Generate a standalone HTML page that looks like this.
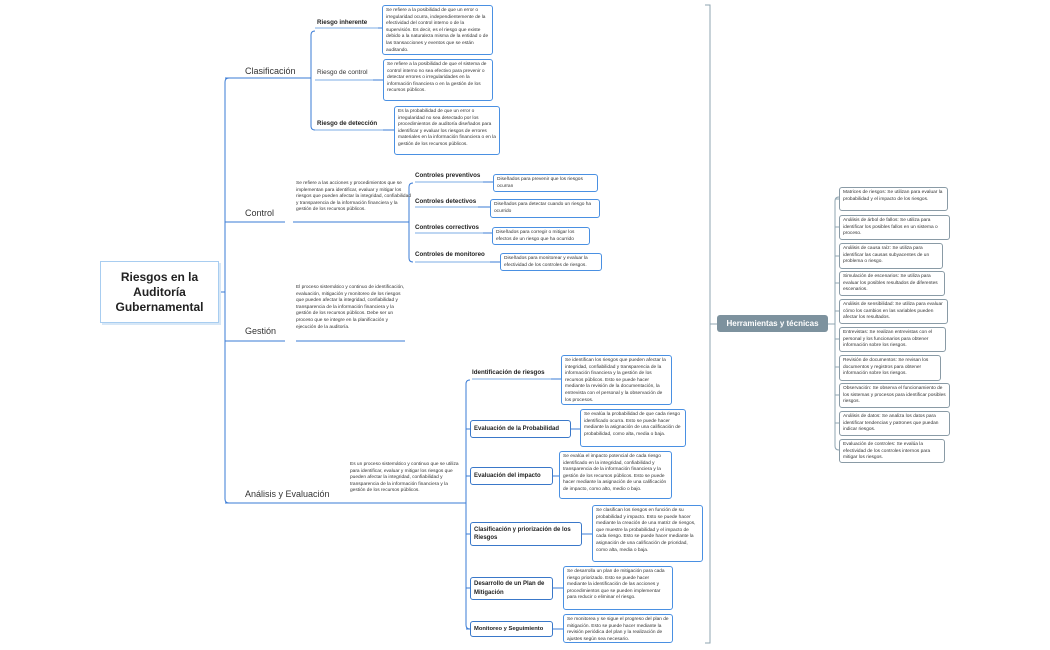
<!DOCTYPE html>
<html><head><meta charset="utf-8"><style>
body{margin:0;width:1050px;height:650px;background:#fff;position:relative;overflow:hidden;font-family:"Liberation Sans",sans-serif;color:#222}
.a{position:absolute}
.d{position:absolute;font-size:4.8px;line-height:6.6px;color:#333}
.bx{position:absolute;border:1px solid #4a90e2;border-radius:3px;box-sizing:border-box;padding:2px 3px;font-size:4.8px;line-height:6.6px;color:#333;background:#fff;overflow:hidden}
.gb{position:absolute;border:1px solid #8a9ba6;border-radius:3px;box-sizing:border-box;padding:2px 3px;font-size:4.8px;line-height:6.6px;color:#333;background:#fff;overflow:hidden}
.m{position:absolute;font-size:9px;color:#333}
.s{position:absolute;font-size:6.2px;font-weight:bold;color:#222;white-space:nowrap}
.nb{position:absolute;border:1px solid #3a78c9;border-radius:3px;box-sizing:border-box;font-size:6px;font-weight:bold;padding:0 3px;display:flex;align-items:center;background:#fff;line-height:8.5px}
</style></head><body>
<svg class="a" style="left:0;top:0" width="1050" height="650">
<g fill="none" stroke="#3a7bd5" stroke-width="1">
<path d="M219 292 H225"/>
<path d="M229 78 Q225 78 225 82 V499 Q225 503 229 503"/>
<path d="M225 78 H310 M225 222 H285 M225 341 H285 M225 503 H345"/>
<path d="M293 222 H405 M296 341 H405 M345 503 H463"/>
<path d="M310 78 H311"/>
<path d="M315 31 Q311 31 311 35 V126 Q311 130 315 130"/>
<path d="M405 222 H409 M413 183 Q409 183 409 187 V258 Q409 262 413 262"/>
<path d="M463 503 H466 M470 380 Q466 380 466 384 V625 Q466 629 470 629"/>
<path d="M466 429 H470 M466 476 H470 M466 534 H470 M466 588 H470 M466 629 H470"/>
<path d="M378 28 H382 M373 80 H383 M383 130 H394"/>
<path d="M483 182 H493 M478 207 H490 M483 233 H492 M490 262 H500"/>
<path d="M551 379 H561 M571 429 H580 M553 476 H559 M582 534 H592 M553 588 H563 M553 629 H563"/>
</g>
<g fill="none" stroke="#a8c8ee" stroke-width="1.5">
<path d="M315 28 H378 M315 80 H373 M315 130 H383"/>
<path d="M415 182 H483 M415 207 H478 M415 233 H483 M415 262 H490"/>
<path d="M472 379 H551"/>
</g>
<g fill="none" stroke="#8fa4b0" stroke-width="1">
<path d="M705 5 H710 V643 H705"/>
<path d="M710 324 H717"/>
<path d="M828 324 H835"/>
<path d="M839 197 Q835 197 835 201 V446 Q835 450 839 450"/>
<path d="M835 199 H839 M835 227 H839 M835 256 H839 M835 283 H839 M835 311 H839 M835 339 H839 M835 367 H839 M835 395 H839 M835 423 H839"/>
</g>
</svg>

<div class="a" style="left:100px;top:261px;width:119px;height:62px;border:1px solid #a8cdf0;box-sizing:border-box;box-shadow:2px 2px 0 #d6e7f7;display:flex;align-items:center;justify-content:center;text-align:center;font-size:12px;font-weight:bold;line-height:15px;color:#222">Riesgos en la<br>Auditoría<br>Gubernamental</div>

<div class="m" style="left:245px;top:66px">Clasificación</div>
<div class="m" style="left:245px;top:208px">Control</div>
<div class="m" style="left:245px;top:326px">Gestión</div>
<div class="m" style="left:245px;top:489px">Análisis y Evaluación</div>

<div class="s" style="left:317px;top:19px">Riesgo inherente</div>
<div class="a" style="left:317px;top:69px;font-size:6.5px;color:#333">Riesgo de control</div>
<div class="s" style="left:317px;top:120px">Riesgo de detección</div>

<div class="bx" style="left:382px;top:5px;width:111px;height:50px">Se refiere a la posibilidad de que un error o irregularidad ocurra, independientemente de la efectividad del control interno o de la supervisión. Es decir, es el riesgo que existe debido a la naturaleza misma de la entidad o de las transacciones y eventos que se están auditando.</div>
<div class="bx" style="left:383px;top:59px;width:110px;height:42px">Se refiere a la posibilidad de que el sistema de control interno no sea efectivo para prevenir o detectar errores o irregularidades en la información financiera o en la gestión de los recursos públicos.</div>
<div class="bx" style="left:394px;top:106px;width:106px;height:49px">Es la probabilidad de que un error o irregularidad no sea detectado por los procedimientos de auditoría diseñados para identificar y evaluar los riesgos de errores materiales en la información financiera o en la gestión de los recursos públicos.</div>

<div class="d" style="left:296px;top:181px;width:115px">Se refiere a las acciones y procedimientos que se implementan para identificar, evaluar y mitigar los riesgos que pueden afectar la integridad, confiabilidad y transparencia de la información financiera y la gestión de los recursos públicos.</div>
<div class="d" style="left:296px;top:285px;width:112px">El proceso sistemático y continuo de identificación, evaluación, mitigación y monitoreo de los riesgos que pueden afectar la integridad, confiabilidad y transparencia de la información financiera y la gestión de los recursos públicos. Debe ser un proceso que se integre en la planificación y ejecución de la auditoría.</div>
<div class="d" style="left:350px;top:462px;width:114px">Es un proceso sistemático y continuo que se utiliza para identificar, evaluar y mitigar los riesgos que pueden afectar la integridad, confiabilidad y transparencia de la información financiera y la gestión de los recursos públicos.</div>

<div class="s" style="left:415px;top:172px">Controles preventivos</div>
<div class="s" style="left:415px;top:198px">Controles detectivos</div>
<div class="s" style="left:415px;top:224px">Controles correctivos</div>
<div class="s" style="left:415px;top:251px">Controles de monitoreo</div>
<div class="bx" style="left:493px;top:174px;width:105px;height:18px">Diseñados para prevenir que los riesgos ocurran</div>
<div class="bx" style="left:490px;top:199px;width:110px;height:19px">Diseñados para detectar cuando un riesgo ha ocurrido</div>
<div class="bx" style="left:492px;top:227px;width:98px;height:18px">Diseñados para corregir o mitigar los efectos de un riesgo que ha ocurrido</div>
<div class="bx" style="left:500px;top:253px;width:102px;height:18px">Diseñados para monitorear y evaluar la efectividad de los controles de riesgos.</div>

<div class="s" style="left:472px;top:369px">Identificación de riesgos</div>
<div class="nb" style="left:470px;top:420px;width:101px;height:18px">Evaluación de la Probabilidad</div>
<div class="nb" style="left:470px;top:467px;width:83px;height:18px">Evaluación del impacto</div>
<div class="nb" style="left:470px;top:522px;width:112px;height:24px">Clasificación y priorización de los Riesgos</div>
<div class="nb" style="left:470px;top:577px;width:83px;height:23px">Desarrollo de un Plan de Mitigación</div>
<div class="nb" style="left:470px;top:621px;width:83px;height:16px;white-space:nowrap;font-size:5.8px">Monitoreo y Seguimiento</div>

<div class="bx" style="left:561px;top:355px;width:111px;height:50px">Se identifican los riesgos que pueden afectar la integridad, confiabilidad y transparencia de la información financiera y la gestión de los recursos públicos. Esto se puede hacer mediante la revisión de la documentación, la entrevista con el personal y la observación de los procesos.</div>
<div class="bx" style="left:580px;top:409px;width:106px;height:38px">Se evalúa la probabilidad de que cada riesgo identificado ocurra. Esto se puede hacer mediante la asignación de una calificación de probabilidad, como alta, media o baja.</div>
<div class="bx" style="left:559px;top:451px;width:113px;height:48px">Se evalúa el impacto potencial de cada riesgo identificado en la integridad, confiabilidad y transparencia de la información financiera y la gestión de los recursos públicos. Esto se puede hacer mediante la asignación de una calificación de impacto, como alto, medio o bajo.</div>
<div class="bx" style="left:592px;top:505px;width:111px;height:57px">Se clasifican los riesgos en función de su probabilidad y impacto. Esto se puede hacer mediante la creación de una matriz de riesgos, que muestre la probabilidad y el impacto de cada riesgo. Esto se puede hacer mediante la asignación de una calificación de prioridad, como alta, media o baja.</div>
<div class="bx" style="left:563px;top:566px;width:110px;height:44px">Se desarrolla un plan de mitigación para cada riesgo priorizado. Esto se puede hacer mediante la identificación de las acciones y procedimientos que se pueden implementar para reducir o eliminar el riesgo.</div>
<div class="bx" style="left:563px;top:614px;width:110px;height:29px">Se monitorea y se sigue el progreso del plan de mitigación. Esto se puede hacer mediante la revisión periódica del plan y la realización de ajustes según sea necesario.</div>

<div class="a" style="left:717px;top:315px;width:111px;height:17px;background:#7d929e;border-radius:3px;color:#fff;font-weight:bold;font-size:8px;display:flex;align-items:center;justify-content:center">Herramientas y técnicas</div>

<div class="gb" style="left:839px;top:187px;width:109px;height:24px">Matrices de riesgos: Se utilizan para evaluar la probabilidad y el impacto de los riesgos.</div>
<div class="gb" style="left:839px;top:215px;width:111px;height:25px">Análisis de árbol de fallos: Se utiliza para identificar los posibles fallos en un sistema o proceso.</div>
<div class="gb" style="left:839px;top:243px;width:104px;height:26px">Análisis de causa raíz: Se utiliza para identificar las causas subyacentes de un problema o riesgo.</div>
<div class="gb" style="left:839px;top:271px;width:106px;height:25px">Simulación de escenarios: Se utiliza para evaluar los posibles resultados de diferentes escenarios.</div>
<div class="gb" style="left:839px;top:299px;width:109px;height:25px">Análisis de sensibilidad: Se utiliza para evaluar cómo los cambios en las variables pueden afectar los resultados.</div>
<div class="gb" style="left:839px;top:327px;width:107px;height:25px">Entrevistas: Se realizan entrevistas con el personal y los funcionarios para obtener información sobre los riesgos.</div>
<div class="gb" style="left:839px;top:355px;width:102px;height:26px">Revisión de documentos: Se revisan los documentos y registros para obtener información sobre los riesgos.</div>
<div class="gb" style="left:839px;top:383px;width:111px;height:25px">Observación: Se observa el funcionamiento de los sistemas y procesos para identificar posibles riesgos.</div>
<div class="gb" style="left:839px;top:411px;width:111px;height:25px">Análisis de datos: Se analiza los datos para identificar tendencias y patrones que puedan indicar riesgos.</div>
<div class="gb" style="left:839px;top:439px;width:106px;height:24px">Evaluación de controles: Se evalúa la efectividad de los controles internos para mitigar los riesgos.</div>
</body></html>
